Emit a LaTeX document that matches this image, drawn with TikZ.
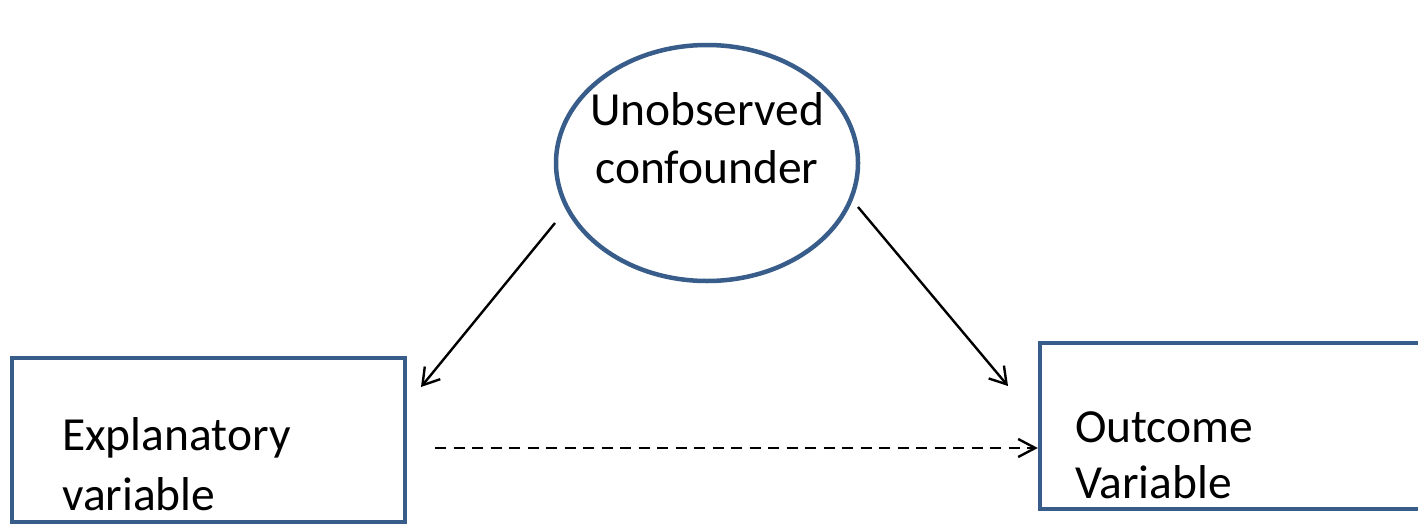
\documentclass[tikz,border=0pt]{standalone}
\usepackage{fontspec}
\setmainfont{Carlito}
\usetikzlibrary{shapes.geometric,arrows.meta}
\definecolor{frameblue}{RGB}{56,93,138}
\begin{document}
\begin{tikzpicture}[x=1pt,y=-1pt,
  frame/.style={draw=frameblue,line width=4.5pt,inner sep=0pt},
  caption/.style={inner sep=0pt,anchor=base west},
  link/.style={draw=black,line width=2.4pt,
    -{Straight Barb[length=16pt,width=20pt,line width=2.4pt]}},
]
\useasboundingbox (0,0) rectangle (1418,525);
\clip (0,0) rectangle (1418,525);

% shapes
\node[frame,ellipse,minimum width=302pt,minimum height=236pt] (conf) at (707,163) {};
\node[frame,rectangle,minimum width=393pt,minimum height=164pt] (expl) at (208.5,440) {};
\node[frame,rectangle,minimum width=420pt,minimum height=166pt] (outc) at (1250,426) {};

% texts
\node[caption,anchor=base,font=\fontsize{47.5}{58}\selectfont] (conftext) at (707,125)
  {\begin{tabular}[t]{@{}c@{}}Unobserved\\confounder\end{tabular}};
\node[caption,font=\fontsize{47.5}{60}\selectfont] (expltext) at (62,450)
  {\begin{tabular}[t]{@{}l@{}}Explanatory\\variable\end{tabular}};
\node[caption,font=\fontsize{47.5}{56}\selectfont] (outctext) at (1075,442)
  {\begin{tabular}[t]{@{}l@{}}Outcome\\Variable\end{tabular}};

% connector end points
\coordinate (c2e) at (555,223);
\coordinate (e1) at (421,387);
\coordinate (c2o) at (858,207);
\coordinate (o1) at (1008,386);
\coordinate (dstart) at (435,448);

\draw[link] (c2e) -- (e1);
\draw[link] (c2o) -- (o1);
\draw[link,dash pattern=on 11pt off 7.5pt,
  -{Straight Barb[length=17pt,width=18pt,line width=2.4pt]}]
  (dstart) -- (outc.west |- dstart);
\end{tikzpicture}
\end{document}
